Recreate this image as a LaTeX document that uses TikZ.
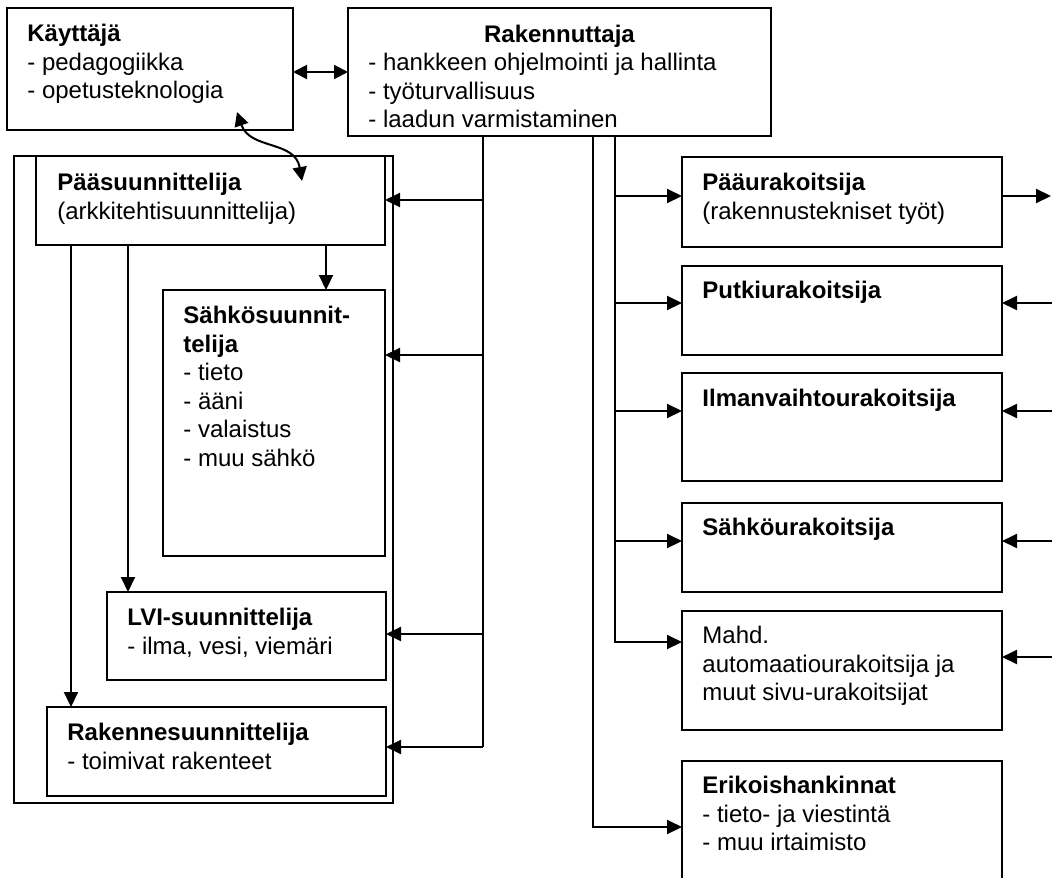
\documentclass[tikz,border=0pt]{standalone}
\usepackage{fontspec}
\setmainfont{Liberation Sans}
\usetikzlibrary{arrows.meta,fit,calc}
\begin{document}
\begin{tikzpicture}[x=0.5pt,y=-0.5pt,
  bx/.style={draw, line width=1pt, inner sep=0pt, outer sep=0pt},
  hid/.style={inner sep=0pt, outer sep=0pt},
  txt/.style={anchor=north west, inner sep=0pt, align=left, font=\fontsize{12}{14.3}\selectfont},
  arr/.style={line width=1pt, -{Triangle[length=7.5pt,width=7pt]}},
  darr/.style={line width=1pt, {Triangle[length=7pt,width=7pt]}-{Triangle[length=7pt,width=7pt]}},
  ln/.style={line width=1pt}]
\useasboundingbox (0,0) rectangle (1052,878);

% boxes
\node[bx, fit={(7,8) (293,130)}] (kay) {};
\node[bx, fit={(348,8) (771,136)}] (rak) {};
\node[bx, fit={(14,156) (393,803)}] (frame) {};
\node[bx, fill=white, fit={(36,156) (385,245)}] (ps) {};
\node[bx, fit={(163,290) (385,556)}] (se) {};
\node[bx, fit={(107,592) (386,680)}] (lvi) {};
\node[bx, fit={(47,707) (386,796)}] (rs) {};
\node[bx, fit={(682,157) (1002,247)}] (pu) {};
\node[bx, fit={(682,266) (1002,355)}] (pk) {};
\node[bx, fit={(682,373) (1002,481)}] (iv) {};
\node[bx, fit={(682,503) (1002,592)}] (su) {};
\node[bx, fit={(682,611) (1002,730)}] (mu) {};
\node[hid, fit={(682,761) (1002,878)}] (eh) {};
\draw[ln] (eh.south west) -- (eh.north west) -- (eh.north east) -- (eh.south east);

% texts
\node[txt] (kayt) at ($(kay.north west)+(20,13)$) {\strut\textbf{Käyttäjä}\\- pedagogiikka\\- opetusteknologia};
\node[anchor=base, inner sep=0pt, font=\fontsize{12}{14.3}\selectfont] (rakh) at ($(rak.north)+(0,34)$) {\textbf{Rakennuttaja}};
\node[txt] (rakt) at ($(rak.north west)+(20,42)$) {\strut- hankkeen ohjelmointi ja hallinta\\- työturvallisuus\\- laadun varmistaminen};
\node[txt] (pst) at ($(ps.north west)+(21,14)$) {\strut\textbf{Pääsuunnittelija}\\(arkkitehtisuunnittelija)};
\node[txt] (set) at ($(se.north west)+(20,13)$) {\strut\textbf{Sähkösuunnit-}\\\textbf{telija}\\- tieto\\- ääni\\- valaistus\\- muu sähkö};
\node[txt] (lvit) at ($(lvi.north west)+(20,13)$) {\strut\textbf{LVI-suunnittelija}\\- ilma, vesi, viemäri};
\node[txt] (rst) at ($(rs.north west)+(20,13)$) {\strut\textbf{Rakennesuunnittelija}\\- toimivat rakenteet};
\node[txt] (put) at ($(pu.north west)+(20,13)$) {\strut\textbf{Pääurakoitsija}\\(rakennustekniset työt)};
\node[txt] (pkt) at ($(pk.north west)+(20,12)$) {\strut\textbf{Putkiurakoitsija}};
\node[txt] (ivt) at ($(iv.north west)+(20,13)$) {\strut\textbf{Ilmanvaihtourakoitsija}};
\node[txt] (sut) at ($(su.north west)+(20,12)$) {\strut\textbf{Sähköurakoitsija}};
\node[txt] (mut) at ($(mu.north west)+(20,12)$) {\strut Mahd.\\automaatiourakoitsija ja\\muut sivu-urakoitsijat};
\node[txt] (eht) at ($(eh.north west)+(20,12)$) {\strut\textbf{Erikoishankinnat}\\- tieto- ja viestintä\\- muu irtaimisto};

% Käyttäjä <-> Rakennuttaja
\draw[darr] (kay.east |- rak.west) -- (rak.west);
% curved Käyttäjä <-> Pääsuunnittelija
\coordinate (c1) at (237,112);
\coordinate (c2) at (302,181);
\draw[darr] (c1) .. controls (250,150) and (295,140) .. (c2);

% left bus
\coordinate (j1) at (483,200);
\coordinate (bs) at (483,355);
\coordinate (bl) at (483,634);
\coordinate (j2) at (483,747);
\draw[ln] (rak.south -| j1) -- (j1);
\draw[ln] (j1) -- (j2);
\draw[arr] (j1) -- (ps.east |- j1);
\draw[arr] (bs) -- (se.east |- bs);
\draw[arr] (bl) -- (lvi.east |- bl);
\draw[arr] (j2) -- (rs.east |- j2);

% from Pääsuunnittelija down
\draw[arr] ($(ps.south west)+(35,0)$) coordinate (v1) -- (v1 |- rs.north);
\draw[arr] ($(ps.south west)+(92,0)$) coordinate (v2) -- (v2 |- lvi.north);
\draw[arr] ($(ps.south west)+(290,0)$) coordinate (v3) -- (v3 |- se.north);

% right bus
\coordinate (r1) at (615,196);
\coordinate (r2) at (615,303);
\coordinate (r3) at (615,411);
\coordinate (r4) at (615,541);
\coordinate (r5) at (615,642);
\draw[ln] (rak.south -| r1) -- (r1) -- (r2) -- (r3) -- (r4);
\draw[arr] (r4) -- (r5) -- (mu.west |- r5);
\draw[arr] (r1) -- (pu.west |- r1);
\draw[arr] (r2) -- (pk.west |- r2);
\draw[arr] (r3) -- (iv.west |- r3);
\draw[arr] (r4) -- (su.west |- r4);

\coordinate (q1) at (593,827);
\draw[arr] (rak.south -| q1) -- (q1) -- (eh.west |- q1);

% right edge
\coordinate (o1) at (1051,196);
\draw[arr] (pu.east |- o1) -- (o1);
\coordinate (e2) at (1052,303);
\coordinate (e3) at (1052,411);
\coordinate (e4) at (1052,541);
\coordinate (e5) at (1052,657);
\draw[arr] (e2) -- (pk.east |- e2);
\draw[arr] (e3) -- (iv.east |- e3);
\draw[arr] (e4) -- (su.east |- e4);
\draw[arr] (e5) -- (mu.east |- e5);
\end{tikzpicture}
\end{document}
